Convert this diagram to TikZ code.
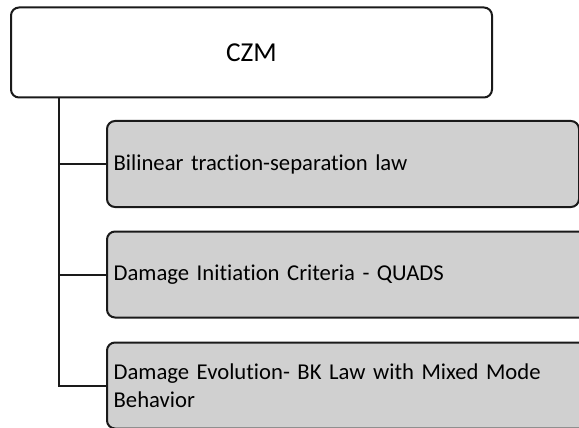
\documentclass[tikz,border=0pt]{standalone}
\usepackage{fontspec}
\setmainfont{Carlito}[Ligatures=NoCommon]
\usepackage{xcolor}
\definecolor{boxink}{HTML}{1A1A1A}
\definecolor{boxgray}{HTML}{D0D0D0}

\begin{document}
\begin{tikzpicture}[x=0.75pt,y=-0.75pt,
  point/.style={coordinate},
  rootbox/.style={draw=boxink, line width=1.5pt, rounded corners=6pt, rectangle, minimum width=360.75pt, minimum height=67.5pt, font=\fontsize{20.5}{24}\selectfont},
  leafbox/.style={draw=boxink, fill=boxgray, line width=1.5pt, rounded corners=6pt, rectangle, anchor=west, minimum height=64.5pt, inner xsep=5pt, align=left, font=\fontsize{17}{21}\selectfont},
  link/.style={draw=boxink, line width=1.5pt}]
\useasboundingbox (0,0) rectangle (579,428);
\clip (0,0) rectangle (579,428);
\node[rootbox] (czm) at (251.5,52.5) {CZM};
\node[leafbox, text width=344pt] (law) at (106,164) {Bilinear traction-separation law};
\node[leafbox, text width=362pt] (init) at (106,274.5) {Damage Initiation Criteria - QUADS};
\node[leafbox, text width=362pt] (evol) at (106,385.5) {Damage Evolution- BK Law with Mixed Mode\\Behavior};
\node[point] (trunk) at ([xshift=36.75pt]czm.south west) {};
\draw[link]   (trunk) |- (law.west);
\draw[link]   (trunk) |- (init.west);
\draw[link]   (trunk) |- (evol.west);
\end{tikzpicture}
\end{document}
